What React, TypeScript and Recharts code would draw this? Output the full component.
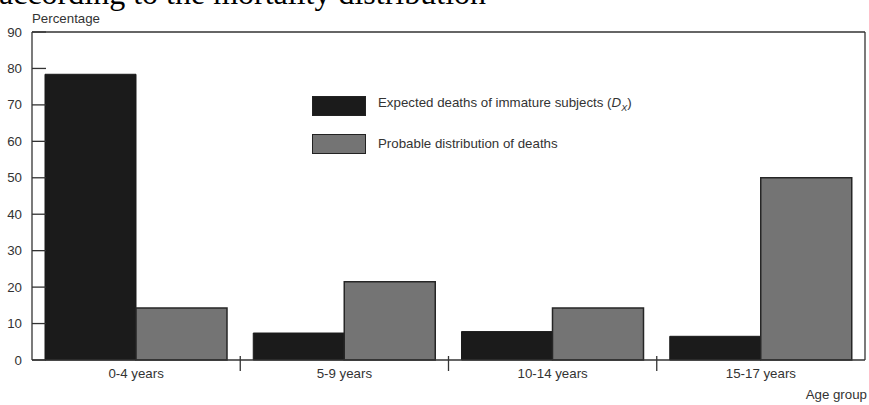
import { BarChart, Bar, XAxis, YAxis, ReferenceLine } from "recharts";

const categories = ["0-4 years", "5-9 years", "10-14 years", "15-17 years"];
const expectedDeaths = [78.4, 7.4, 7.8, 6.5];
const probableDeaths = [14.3, 21.5, 14.3, 50];
const yTicks = [0, 10, 20, 30, 40, 50, 60, 70, 80, 90];

const data = categories.map((name, i) => ({
  name,
  expected: expectedDeaths[i],
  probable: probableDeaths[i],
}));

const INK = "#333";
const FONT = "'Liberation Sans', Arial, sans-serif";
const FS = 13.3;

const LeftTick = (props: any) => {
  const { x, y, payload } = props;
  return (
    <g>
      <line x1={x + 10} x2={x + 24} y1={y} y2={y} stroke={INK} strokeWidth={1.3} />
      <text x={x} y={y} dy={4.5} textAnchor="end" fontSize={FS} fontFamily={FONT} fill={INK}>
        {payload.value}
      </text>
    </g>
  );
};

const RightTick = (props: any) => {
  const { x, y } = props;
  return <line x1={x - 15} x2={x} y1={y} y2={y} stroke={INK} strokeWidth={1.3} />;
};

const BottomTick = (props: any) => {
  const { x, y, payload, index, visibleTicksCount } = props;
  const half = payload.offset ?? 0;
  return (
    <g>
      {index < visibleTicksCount - 1 && (
        <line x1={x + half} x2={x + half} y1={y - 4} y2={y + 11} stroke={INK} strokeWidth={1.3} />
      )}
      <text x={x} y={y} dy={17.5} textAnchor="middle" fontSize={FS} fontFamily={FONT} fill={INK}>
        {payload.value}
      </text>
    </g>
  );
};

const legendItems = [
  { color: "#1b1b1b", label: <>Expected deaths of immature subjects (<i>D</i><sub style={{ fontSize: 9 }}><i>X</i></sub>)</> },
  { color: "#747474", label: <>Probable distribution of deaths</> },
];

export default function App() {
  return (
    <div style={{ position: "absolute", left: 0, top: 0, width: 869, height: 405, overflow: "hidden", background: "#fff" }}>
      <BarChart
        width={869}
        height={405}
        data={data}
        margin={{ top: 32, right: 3, bottom: 0, left: 0 }}
        barCategoryGap={13}
        barGap={0}
      >
        <XAxis
          dataKey="name"
          height={45}
          tick={<BottomTick />}
          tickLine={false}
          tickSize={0}
          tickMargin={0}
          axisLine={{ stroke: INK, strokeWidth: 1.3 }}
          interval={0}
        />
        <YAxis
          yAxisId="l"
          width={32}
          domain={[0, 90]}
          ticks={yTicks}
          tick={<LeftTick />}
          tickLine={false}
          tickSize={0}
          tickMargin={10}
          axisLine={{ stroke: INK, strokeWidth: 1.3 }}
          interval={0}
        />
        <YAxis
          yAxisId="r"
          orientation="right"
          width={1}
          domain={[0, 90]}
          ticks={yTicks}
          tick={<RightTick />}
          tickLine={false}
          tickSize={0}
          tickMargin={0}
          axisLine={{ stroke: INK, strokeWidth: 1.3 }}
          interval={0}
        />
        <ReferenceLine yAxisId="l" y={90} stroke={INK} strokeWidth={1.3} />
        <Bar yAxisId="l" dataKey="expected" fill="#1b1b1b" stroke="#1b1b1b" strokeWidth={1} isAnimationActive={false} />
        <Bar yAxisId="l" dataKey="probable" fill="#747474" stroke="#262626" strokeWidth={1.5} isAnimationActive={false} />
      </BarChart>
      <div style={{ position: "absolute", left: 312, top: 95, fontFamily: FONT, fontSize: FS, color: INK }}>
        {legendItems.map((it, i) => (
          <div key={i} style={{ display: "flex", alignItems: "center", height: 21, marginBottom: 17 }}>
            <div style={{ width: 52, height: 18, background: it.color, border: "1.5px solid #222", marginRight: 12 }} />
            <span style={{ lineHeight: "15px" }}>{it.label}</span>
          </div>
        ))}
      </div>
      <svg width={869} height={405} style={{ position: "absolute", left: 0, top: 0, pointerEvents: "none" }}>
        <text x={-1} y={4} fontSize={32} fontFamily="'Liberation Serif', 'Times New Roman', serif" fill="#000">
          according to the mortality distribution
        </text>
        <text x={32} y={23} fontSize={FS} fontFamily={FONT} fill={INK}>
          Percentage
        </text>
        <text x={867} y={399} textAnchor="end" fontSize={FS} fontFamily={FONT} fill={INK}>
          Age group
        </text>
      </svg>
    </div>
  );
}
